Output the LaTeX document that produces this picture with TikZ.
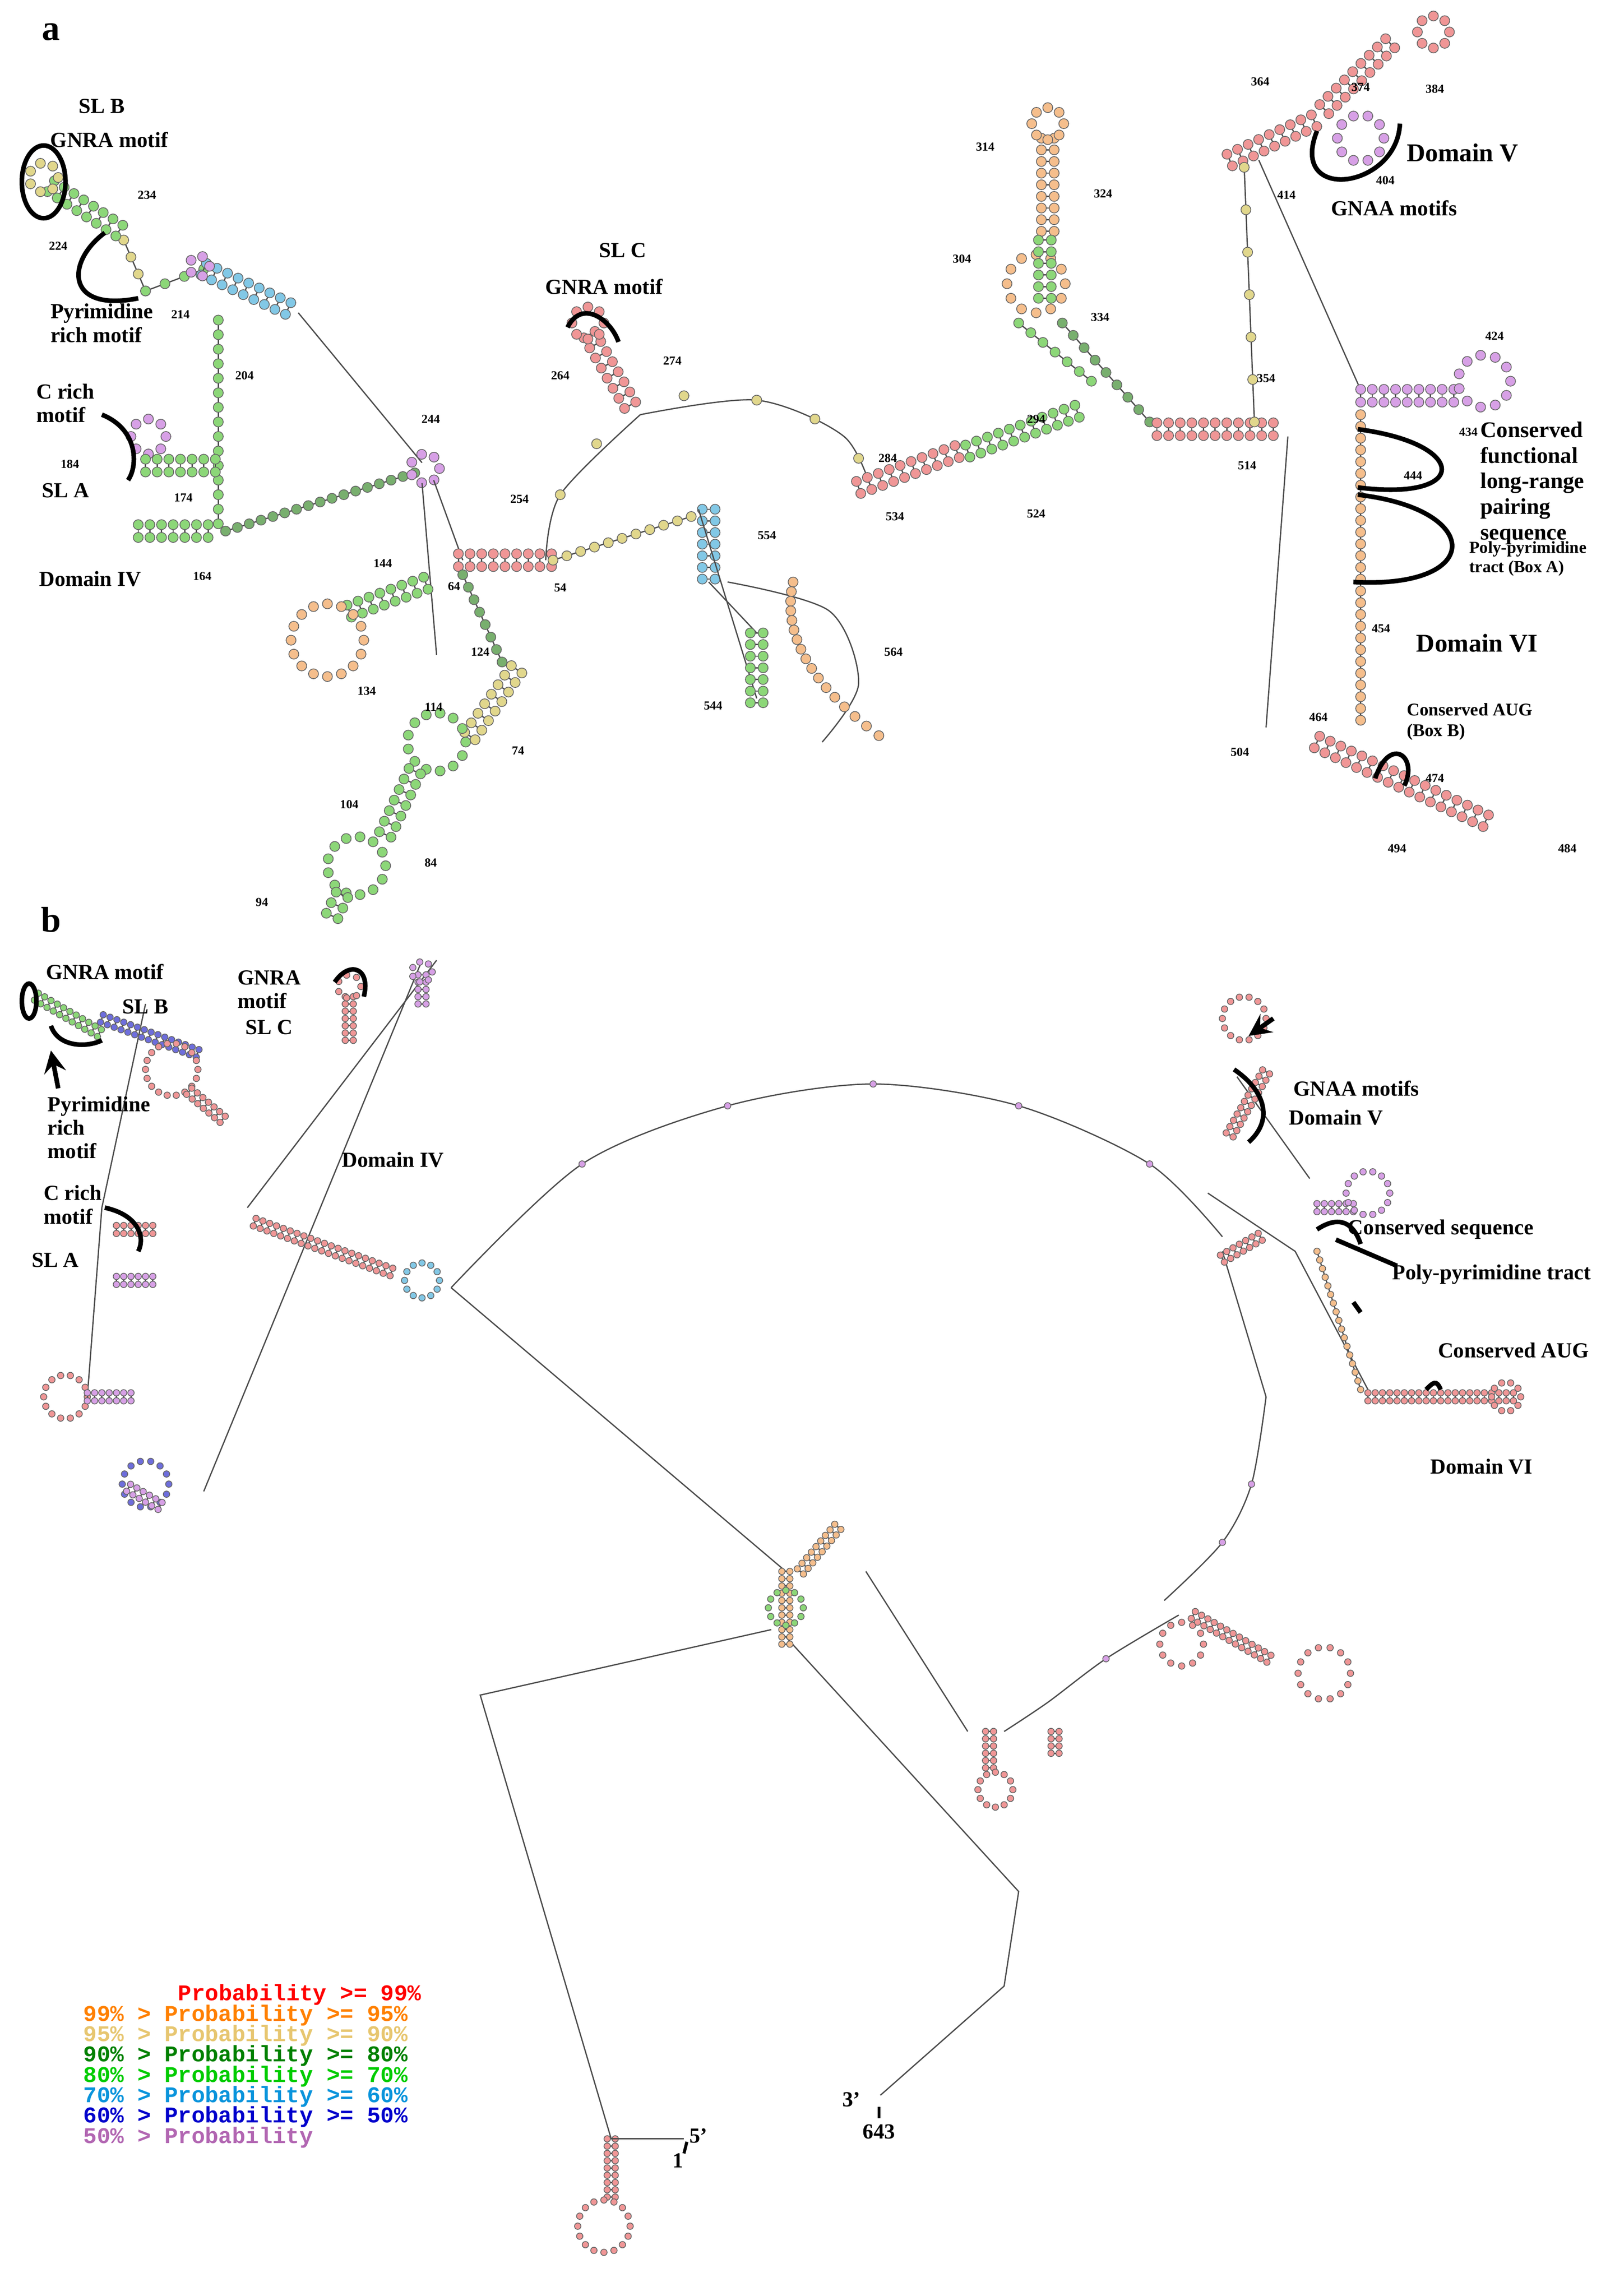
\documentclass[tikz,border=0pt]{standalone}
\usepackage{fontspec}
\setmainfont{Liberation Serif}
\setmonofont{Liberation Mono}
\usetikzlibrary{calc, positioning}
\definecolor{pR}{RGB}{240,150,150}
\definecolor{pO}{RGB}{245,190,140}
\definecolor{pY}{RGB}{225,215,140}
\definecolor{pG}{RGB}{140,215,120}
\definecolor{pD}{RGB}{120,175,110}
\definecolor{pC}{RGB}{130,200,230}
\definecolor{pB}{RGB}{110,110,220}
\definecolor{pV}{RGB}{215,160,230}
\tikzset{
  base/.style={draw=black!60, line width=0.15pt},
  bb/.style={draw=black!70, line width=0.25pt},
  motif/.style={draw=black, line width=0.9pt},
  lbl/.style={font=\bfseries\fontsize{4.2}{4.6}\selectfont, align=left},
  num/.style={font=\bfseries\fontsize{2.4}{2.6}\selectfont},
  leg/.style={font=\ttfamily\bfseries\fontsize{4.4}{4.8}\selectfont, anchor=west}
}
\newcommand\br{3.4}
% stem: x, y, angle, n, colour, step
\newcommand\stem[6]{%
  \foreach \k in {0,...,#4}{%
    \draw[bb] ($(#1,-#2)+(#3:\k*#6)+(#3+90:#6*0.55)$) -- ($(#1,-#2)+(#3:\k*#6)+(#3-90:#6*0.55)$);
    \draw[base, fill=#5] ($(#1,-#2)+(#3:\k*#6)+(#3+90:#6*0.55)$) circle (\br);
    \draw[base, fill=#5] ($(#1,-#2)+(#3:\k*#6)+(#3-90:#6*0.55)$) circle (\br);
  }}
% chain: x1, y1, x2, y2, n, colour
\newcommand\chain[6]{%
  \draw[bb] (#1,-#2) -- (#3,-#4);
  \foreach \k in {0,...,#5}{%
    \draw[base, fill=#6] ($(#1,-#2)!\k/#5!(#3,-#4)$) circle (\br);
  }}
% ring: x, y, radius, n, colour
\newcommand\ring[5]{%
  \foreach \k in {1,...,#4}{%
    \draw[base, fill=#5] ($(#1,-#2)+(\k*360/#4:#3)$) circle (\br);
  }}
\begin{document}
\begin{tikzpicture}[x=0.1mm, y=0.1mm]
\useasboundingbox (0,0) rectangle (1100,-1578);
\fill[white] (0,0) rectangle (1100,-1578);

% ---------------- panel a
\node[font=\bfseries\fontsize{7}{8}\selectfont] (pa) at (35,-22) {a};

% Domain IV and SL A / SL B
\chain{85}{165}{100}{200}{3}{pY}
\chain{100}{200}{140}{185}{3}{pG}
\stem{35}{128}{-33}{7}{pG}{8}
\ring{30}{122}{10}{7}{pY}
\stem{140}{185}{-25}{8}{pC}{8}
\ring{137}{183}{7}{5}{pV}
\draw[bb] (205,-215) -- (290,-318);
\chain{150}{220}{150}{360}{14}{pG}
\ring{102}{300}{12}{8}{pV}
\stem{100}{320}{0}{6}{pG}{8}
\stem{95}{365}{0}{6}{pG}{8}
\chain{155}{365}{285}{325}{16}{pD}
\ring{292}{322}{10}{7}{pV}
\draw[bb] (290,-332) -- (300,-450);
\draw[bb] (298,-330) -- (318,-385);

% SL C and centre
\stem{315}{385}{0}{8}{pR}{8}
\chain{380}{385}{475}{355}{10}{pY}
\stem{487}{350}{-90}{6}{pC}{8}
\draw[bb] (487,-400) -- (520,-435);
\draw[bb] (480,-350) -- (520,-480);
\stem{520}{435}{-90}{6}{pG}{8}
\draw[bb] plot[smooth] coordinates {(500,-400) (570,-420) (590,-470) (565,-510)};
\foreach \t in {0,0.06,...,1}{\draw[base, fill=pO] ($(500,-400)!\t!(565,-510)+(\t*\t*90-\t*90+45,0)$) circle (\br);}
\stem{405}{230}{-60}{7}{pR}{8}
\ring{404}{222}{11}{8}{pR}
\draw[bb] plot[smooth] coordinates {(375,-385) (385,-340) (440,-285)};
\draw[bb] plot[smooth] coordinates {(440,-285) (520,-275) (580,-300) (600,-340)};
\foreach \p in {(385,-340),(410,-305),(470,-272),(520,-275),(560,-288),(590,-315)}{\draw[base, fill=pY] \p circle (\br);}

% SL 284-534, 314-334
\stem{590}{335}{20}{9}{pR}{8}
\stem{665}{310}{20}{10}{pG}{8}
\stem{720}{95}{-90}{8}{pO}{8}
\ring{720}{85}{11}{8}{pO}
\ring{712}{195}{20}{12}{pO}
\stem{718}{165}{-90}{5}{pG}{8}
\chain{730}{222}{790}{290}{8}{pD}
\chain{700}{222}{750}{262}{6}{pG}
\stem{795}{295}{0}{10}{pR}{8}

% Domain V
\stem{845}{110}{25}{8}{pR}{8}
\stem{910}{75}{45}{8}{pR}{8}
\ring{985}{22}{11}{8}{pR}
\ring{935}{95}{16}{10}{pV}
\chain{855}{115}{862}{290}{6}{pY}
\draw[bb] (885,-300) -- (870,-500);
\draw[bb] (865,-110) -- (935,-268);

% Domain VI
\stem{935}{272}{0}{8}{pV}{8}
\ring{1020}{262}{18}{11}{pV}
\chain{935}{285}{935}{495}{26}{pO}
\stem{905}{510}{-25}{16}{pR}{8}

% lower branch
\stem{240}{420}{20}{7}{pG}{8}
\ring{225}{440}{25}{16}{pO}
\chain{318}{395}{345}{455}{7}{pD}
\stem{355}{460}{-125}{7}{pY}{8}
\ring{300}{510}{20}{13}{pG}
\stem{285}{530}{-115}{6}{pG}{8}
\ring{245}{595}{20}{13}{pG}
\stem{235}{615}{-115}{2}{pG}{8}

% motif curves
\draw[motif] (30,-125) ellipse (15 and 25);
\draw[motif] (72,-160) .. controls (45,-180) and (45,-215) .. (95,-205);
\draw[motif] (70,-285) .. controls (95,-295) and (95,-320) .. (88,-330);
\draw[motif] (390,-225) .. controls (400,-205) and (420,-220) .. (425,-235);
\draw[motif] (905,-90) .. controls (885,-140) and (960,-130) .. (962,-85);
\draw[motif] (933,-295) .. controls (1010,-305) and (1010,-345) .. (933,-335);
\draw[motif] (933,-340) .. controls (1020,-350) and (1020,-405) .. (930,-400);
\draw[motif] (945,-535) .. controls (955,-505) and (975,-520) .. (965,-540);

% labels panel a
\node[lbl] (slb) at (70,-73) {SL B};
\node[lbl] (gnra1) at (75,-96) {GNRA motif};
\node[lbl] (pyr) at (70,-222) {Pyrimidine\\rich motif};
\node[lbl] (crich) at (45,-277) {C rich\\motif};
\node[lbl] (sla) at (45,-337) {SL A};
\node[lbl] (d4) at (62,-398) {Domain IV};
\node[lbl] (slc) at (428,-172) {SL C};
\node[lbl] (gnra2) at (415,-197) {GNRA motif};
\node[lbl, font=\bfseries\fontsize{5}{5.5}\selectfont] (d5) at (1005,-105) {Domain V};
\node[lbl] (gnaa) at (958,-143) {GNAA motifs};
\node[lbl, font=\bfseries\fontsize{4.4}{5}\selectfont] (cfl) at (1053,-332) {Conserved\\functional\\long-range\\pairing\\sequence};
\node[lbl, font=\bfseries\fontsize{3.3}{3.7}\selectfont] (ppt) at (1050,-384) {Poly-pyrimidine\\tract (Box A)};
\node[lbl, font=\bfseries\fontsize{5}{5.5}\selectfont] (d6) at (1015,-442) {Domain VI};
\node[lbl, font=\bfseries\fontsize{3.5}{4}\selectfont] (aug) at (1010,-496) {Conserved AUG\\(Box B)};
\foreach \lab/\x/\y in {234/101/-134, 224/40/-169, 214/124/-216, 204/168/-258, 184/48/-319, 174/126/-342,
  164/139/-396, 244/296/-288, 254/357/-343, 54/385/-404, 144/263/-387, 64/312/-403, 124/330/-448, 134/252/-475,
  114/298/-486, 74/356/-516, 104/240/-553, 84/296/-593, 94/180/-620, 264/385/-258, 274/462/-248, 554/527/-368,
  564/614/-448, 544/490/-485, 284/610/-315, 534/615/-355, 294/712/-288, 524/712/-353, 314/677/-101, 324/758/-133,
  304/661/-178, 334/756/-218, 354/870/-260, 514/857/-320, 374/935/-60, 384/986/-61, 364/866/-56, 404/952/-124,
  414/884/-134, 424/1027/-231, 434/1009/-297, 444/971/-327, 454/949/-432, 464/906/-493, 504/852/-517,
  474/986/-535, 494/960/-583, 484/1077/-583}
  {\node[num] (n\lab) at (\x,\y) {\lab};}

% ---------------- panel b
\node[font=\bfseries\fontsize{7}{8}\selectfont] (pb) at (35,-632) {b};
\renewcommand\br{2.2}
\draw[bb] plot[smooth] coordinates {(310,-885) (400,-800) (500,-760) (600,-745) (700,-760) (790,-800) (840,-850)};
\draw[bb] plot[smooth] coordinates {(870,-960) (860,-1020) (840,-1060) (800,-1100)};
\draw[bb] plot[smooth] coordinates {(810,-1110) (760,-1140) (720,-1170) (690,-1190)};
\foreach \p in {(400,-800),(500,-760),(600,-745),(700,-760),(790,-800),(860,-1020),(840,-1060),(760,-1140)}
  {\draw[base, fill=pV] \p circle (\br);}
\draw[bb] (300,-660) -- (170,-830);
\draw[bb] (290,-660) -- (140,-1025);
\draw[bb] (310,-885) -- (540,-1080);
\draw[bb] (595,-1080) -- (665,-1190);
\draw[bb] (530,-1120) -- (330,-1165) -- (420,-1470);
\draw[bb] (540,-1125) -- (700,-1300) -- (690,-1365) -- (605,-1440);
\draw[bb] (100,-690) -- (70,-830) -- (60,-960);
\draw[bb] (830,-820) -- (890,-860) -- (940,-955);
\draw[bb] (850,-740) -- (900,-810);
\draw[bb] (840,-860) -- (870,-960);
% stems panel b
\stem{25}{685}{-30}{10}{pG}{5}
\stem{70}{700}{-20}{14}{pB}{5}
\ring{118}{735}{18}{18}{pR}
\stem{130}{750}{-40}{6}{pR}{5}
\stem{240}{685}{-90}{6}{pR}{5}
\ring{240}{678}{8}{7}{pR}
\stem{290}{670}{-90}{4}{pV}{5}
\ring{290}{668}{7}{7}{pV}
\stem{175}{840}{-20}{20}{pR}{5}
\ring{290}{880}{12}{12}{pC}
\stem{80}{845}{0}{5}{pR}{5}
\stem{80}{880}{0}{5}{pV}{5}
\ring{45}{960}{15}{14}{pR}
\stem{60}{960}{0}{6}{pV}{5}
\ring{100}{1020}{16}{14}{pB}
\stem{110}{1035}{150}{5}{pV}{5}
\stem{540}{1080}{-90}{10}{pO}{5}
\ring{540}{1105}{12}{12}{pG}
\stem{550}{1080}{50}{8}{pO}{5}
\stem{680}{1190}{-90}{5}{pR}{5}
\ring{684}{1230}{12}{12}{pR}
\stem{725}{1190}{-90}{3}{pR}{5}
\ring{812}{1130}{15}{12}{pR}
\stem{820}{1110}{-30}{12}{pR}{5}
\ring{910}{1150}{18}{14}{pR}
\stem{845}{780}{60}{10}{pR}{5}
\ring{855}{700}{15}{14}{pR}
\stem{905}{830}{0}{5}{pV}{5}
\ring{940}{820}{15}{14}{pV}
\stem{840}{865}{30}{6}{pR}{5}
\stem{940}{960}{0}{20}{pR}{5}
\ring{1035}{960}{10}{10}{pR}
\chain{905}{860}{935}{955}{16}{pO}
\stem{420}{1470}{-90}{8}{pR}{5}
\ring{415}{1530}{18}{16}{pR}
\draw[bb] (420,-1470) -- (470,-1470);

% motif curves panel b
\draw[motif] (20,-688) ellipse (5 and 12);
\draw[motif] (35,-705) .. controls (40,-720) and (60,-720) .. (70,-715);
\draw[->, motif, >=stealth] (40,-748) -- (35,-722);
\draw[motif] (72,-830) .. controls (95,-835) and (100,-850) .. (95,-860);
\draw[motif] (230,-675) .. controls (240,-660) and (255,-665) .. (250,-685);
\draw[motif] (848,-735) .. controls (870,-750) and (875,-770) .. (858,-785);
\draw[->, motif, >=stealth] (875,-700) -- (858,-712);
\draw[motif] (905,-845) .. controls (920,-835) and (930,-840) .. (935,-855);
\draw[motif] (918,-852) -- (960,-870);
\draw[motif] (930,-895) -- (935,-902);
\draw[motif] (980,-955) .. controls (985,-950) and (987,-948) .. (990,-955);

% labels panel b
\node[lbl] (gnrab) at (72,-668) {GNRA motif};
\node[lbl] (slbb) at (100,-692) {SL B};
\node[lbl] (gnrab2) at (185,-680) {GNRA\\motif};
\node[lbl] (slcb) at (185,-706) {SL C};
\node[lbl] (pyrb) at (68,-775) {Pyrimidine\\rich\\motif};
\node[lbl] (d4b) at (270,-797) {Domain IV};
\node[lbl] (crichb) at (50,-828) {C rich\\motif};
\node[lbl] (slab) at (38,-866) {SL A};
\node[lbl] (gnaab) at (932,-748) {GNAA motifs};
\node[lbl] (d5b) at (918,-768) {Domain V};
\node[lbl] (csb) at (990,-845) {Conserved sequence};
\node[lbl] (pptb) at (1025,-876) {Poly-pyrimidine tract};
\node[lbl] (augb) at (1040,-928) {Conserved AUG};
\node[lbl] (d6b) at (1018,-1008) {Domain VI};
\node[lbl] (five) at (480,-1468) {5'};
\node[lbl] (one) at (466,-1485) {1};
\draw[motif, line width=0.6pt] (472,-1472) -- (470,-1480);
\node[lbl] (three) at (585,-1443) {3'};
\node[lbl] (end) at (604,-1465) {643};
\draw[motif, line width=0.6pt] (604,-1448) -- (604,-1456);

% legend
\node[leg, text=red] (l1) at (110,-1371) {Probability >= 99\%};
\node[leg, text=orange] (l2) at (45,-1385) {99\% > Probability >= 95\%};
\node[leg, text=pY!80!orange] (l3) at (45,-1399) {95\% > Probability >= 90\%};
\node[leg, text=green!50!black] (l4) at (45,-1413) {90\% > Probability >= 80\%};
\node[leg, text=green!80!black] (l5) at (45,-1427) {80\% > Probability >= 70\%};
\node[leg, text=cyan!80!blue] (l6) at (45,-1441) {70\% > Probability >= 60\%};
\node[leg, text=blue!80!black] (l7) at (45,-1455) {60\% > Probability >= 50\%};
\node[leg, text=violet!60] (l8) at (45,-1469) {50\% > Probability};
\end{tikzpicture}
\end{document}
